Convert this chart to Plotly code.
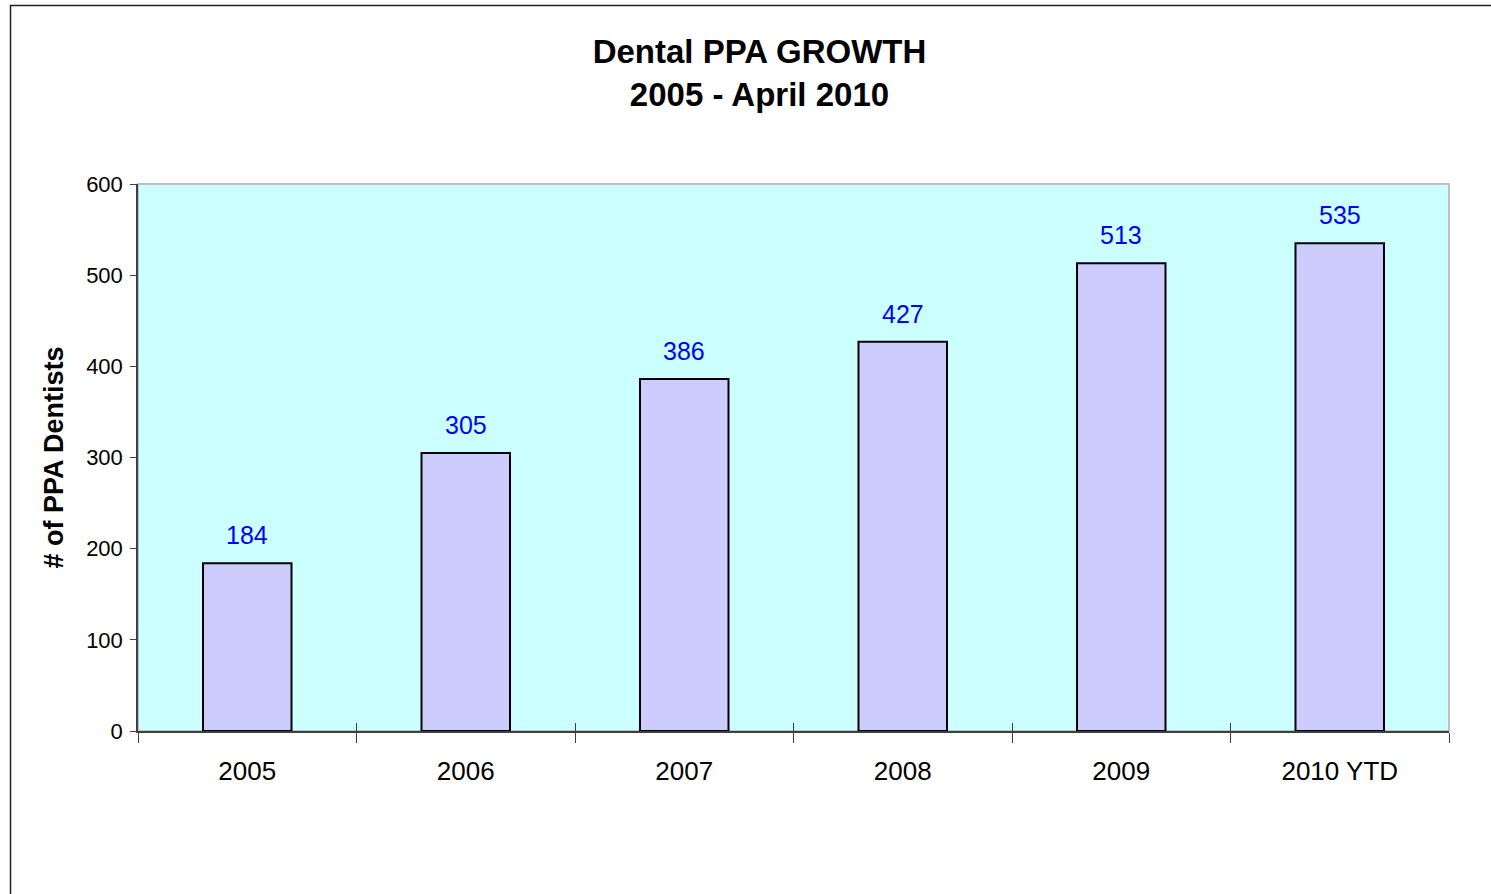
import plotly.graph_objects as go

categories = ["2005", "2006", "2007", "2008", "2009", "2010 YTD"]
values = [184, 305, 386, 427, 513, 535]
y_ticks = [0, 100, 200, 300, 400, 500, 600]

FONT = "Arial, 'Liberation Sans', sans-serif"

fig = go.Figure()
fig.add_trace(go.Bar(
    x=categories, y=values,
    marker=dict(color="#CCCCFF", line=dict(color="#000000", width=2)),
    width=0.405, hoverinfo="skip", showlegend=False,
))
# invisible trace to anchor the secondary x-axis (inside tick marks)
fig.add_trace(go.Scatter(x=[0], y=[0], xaxis="x2", mode="markers",
                         marker=dict(opacity=0), showlegend=False, hoverinfo="skip"))

for i, v in enumerate(values):
    fig.add_annotation(x=i, y=v, xref="x", yref="y", text=str(v), showarrow=False,
                       yanchor="bottom", yshift=12,
                       font=dict(family=FONT, size=25, color="#0000FF"))

n = len(categories)
fig.update_layout(
    width=1491, height=894,
    margin=dict(l=138, r=42, t=184, b=163),
    paper_bgcolor="white", plot_bgcolor="#CCFFFF",
    title=dict(text="<b>Dental PPA GROWTH<br>2005 - April 2010</b>",
               x=759.5 / 1491, xref="container", xanchor="center",
               y=1 - 63 / 894, yref="container", yanchor="top",
               font=dict(family=FONT, size=33, color="#000000")),
    xaxis=dict(type="category", categoryarray=categories, range=[-0.5, n - 0.5],
               tickson="boundaries", ticks="outside", ticklen=10, tickwidth=1,
               tickcolor="#404040", showline=True, linecolor="#404040", linewidth=1.5,
               showgrid=False, zeroline=False, ticklabelstandoff=16,
               tickfont=dict(family=FONT, size=26, color="#000000")),
    xaxis2=dict(overlaying="x", anchor="y", side="bottom", range=[-0.5, n - 0.5],
                tickmode="array", tickvals=[i - 0.5 for i in range(n + 1)],
                ticks="inside", ticklen=8, tickwidth=1, tickcolor="#404040",
                showticklabels=False, showgrid=False, zeroline=False, showline=False),
    yaxis=dict(range=[0, 600], tickmode="array", tickvals=y_ticks,
               ticks="outside", ticklen=6, tickwidth=1, tickcolor="#404040",
               showline=True, linecolor="#404040", linewidth=1.5,
               showgrid=False, zeroline=False, ticklabelstandoff=3,
               tickfont=dict(family=FONT, size=22, color="#000000"),
               title=dict(text="<b># of PPA Dentists</b>", standoff=15,
                          font=dict(family=FONT, size=27, color="#000000"))),
    shapes=[
        dict(type="rect", xref="paper", yref="paper", x0=0, x1=1, y0=0, y1=1,
             line=dict(color="#C0C0C0", width=2), layer="below"),
        dict(type="rect", xref="paper", yref="paper",
             x0=(10.5 - 138) / 1311, x1=2, y0=-0.5, y1=(731 - 5.5) / 547,
             line=dict(color="#202020", width=1.5), layer="above"),
    ],
)

fig.write_html("out.html", config={"displayModeBar": False},
               post_script="document.body.style.margin='0';")
